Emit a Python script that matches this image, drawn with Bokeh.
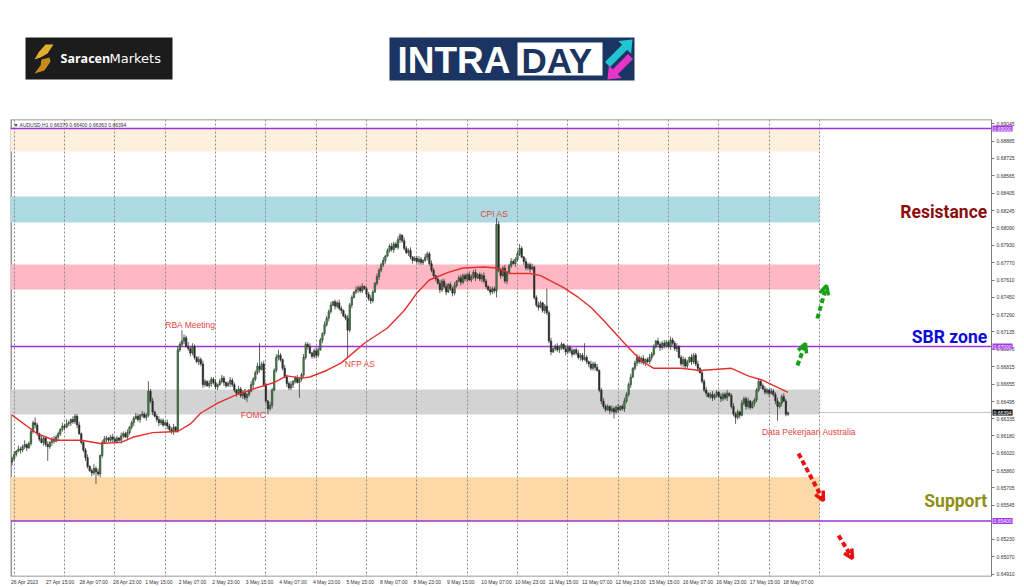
from bokeh.plotting import figure
from bokeh.models import Range1d, FixedTicker, PrintfTickFormatter, Label, Arrow, OpenHead
from bokeh.layouts import column
from bokeh.embed import file_html
from bokeh.resources import INLINE
from bokeh.core.properties import value

# ---------------- data ----------------
symbol = "AUDUSD,H1"
pip = 0.0001
first_open_pips = 6594

close_pips = [
    6597, 6601, 6604, 6606, 6605, 6608, 6610, 6607, 6611, 6622, 6630, 6628, 6620, 6615, 6612, 6616, 6610, 6608,
    6612, 6615, 6613, 6617, 6620, 6624, 6627, 6626, 6629, 6630, 6633, 6631, 6636, 6628, 6620, 6612, 6605, 6598,
    6590, 6586, 6584, 6588, 6585, 6583, 6600, 6612, 6615, 6616, 6614, 6617, 6615, 6613, 6616, 6614, 6618, 6620, 6617, 6621,
    6626, 6630, 6634, 6636, 6633, 6637, 6638, 6635, 6637, 6659, 6650, 6640, 6636, 6633, 6630, 6632, 6628, 6630, 6627, 6624, 6622, 6626, 6623,
    6697, 6702, 6705, 6708, 6700, 6698, 6694, 6700, 6690, 6686, 6688, 6684, 6665,
    6668, 6664, 6666, 6670, 6667, 6663, 6665, 6668, 6671, 6667, 6664, 6666, 6669, 6665, 6660, 6657, 6661, 6655, 6658, 6653, 6656, 6659,
    6665, 6670, 6676, 6682, 6679, 6684, 6665, 6650, 6643, 6646, 6660, 6678, 6690, 6692, 6688, 6680, 6672, 6666, 6662, 6665, 6668, 6671, 6667, 6670, 6674,
    6690, 6702, 6700, 6694, 6691, 6696, 6692, 6697, 6706, 6712, 6720, 6726, 6732, 6738, 6741, 6737, 6740, 6735, 6733, 6728, 6726,
    6715, 6738, 6745, 6750, 6752, 6754, 6751, 6755, 6753, 6748, 6744, 6742, 6750, 6758, 6764, 6770, 6775, 6779, 6783,
    6788, 6792, 6789, 6794, 6791, 6798, 6802, 6797, 6790, 6786, 6788, 6782, 6779, 6781, 6778, 6780, 6777, 6779, 6782, 6785, 6776, 6770, 6765, 6762,
    6758, 6752, 6760, 6755, 6750, 6757, 6753, 6749, 6756, 6760, 6763, 6759, 6765, 6762, 6766, 6761, 6764, 6768, 6763, 6766, 6762, 6765, 6760, 6755, 6752, 6750, 6753, 6751,
    6812, 6770, 6765, 6772, 6760, 6768, 6774, 6778, 6776, 6780, 6785, 6790, 6782, 6778, 6772, 6775, 6771, 6773, 6745, 6738, 6736, 6740, 6733, 6737, 6731, 6705, 6695,
    6698, 6700, 6697, 6699, 6702, 6698, 6695, 6699, 6696, 6693, 6697, 6694, 6690, 6692, 6688, 6690, 6686, 6684, 6680, 6684, 6681, 6678, 6660, 6650, 6645,
    6642, 6645, 6641, 6643, 6640, 6644, 6642, 6645, 6643, 6650, 6656, 6665, 6672, 6680, 6685, 6690, 6686, 6689, 6685, 6688, 6686, 6690, 6693,
    6700, 6705, 6702, 6699, 6703, 6701, 6704, 6700, 6706, 6703, 6698, 6700, 6690, 6684, 6688, 6682, 6686, 6690, 6686, 6692, 6684, 6680, 6676, 6668, 6660,
    6657, 6654, 6656, 6653, 6655, 6658, 6654, 6652, 6656, 6653, 6657, 6655, 6645, 6638, 6635, 6640, 6637, 6648, 6652, 6645, 6650, 6644, 6648, 6651,
    6660, 6668, 6664, 6661, 6658, 6660, 6657, 6659, 6656, 6650, 6645, 6648, 6654, 6650, 6637.9, 6639.4,
]

upper_wick_pips = [
    2, 3, 1, 3, 2, 2, 4, 1, 2, 3, 2, 5, 2, 1, 3, 2, 2, 3, 1, 2,
    3, 2, 2, 1, 3, 2, 4, 2, 1, 3, 2, 2, 3, 1, 2, 2, 3, 1, 2, 4,
    2, 3, 1, 2, 3, 2, 1, 2, 3, 2, 2, 1, 3, 2, 2, 3, 1, 2, 2, 3,
    2, 1, 3, 2, 2, 9, 2, 3, 1, 2, 3, 2, 2, 1, 3, 2, 2, 3, 1, 3,
    2, 10, 3, 2, 4, 2, 3, 2, 1, 3, 2, 3, 2, 1, 3, 2, 2, 3, 1, 2,
    3, 2, 1, 2, 3, 2, 2, 1, 3, 2, 2, 3, 1, 2, 3, 2, 2, 3, 21, 2,
    3, 2, 1, 3, 2, 2, 3, 5, 2, 1, 3, 2, 2, 3, 1, 2, 3, 2, 2, 3,
    2, 2, 3, 1, 2, 3, 2, 2, 1, 3, 2, 2, 3, 1, 2, 2, 3, 2, 1, 2,
    3, 2, 2, 1, 3, 2, 2, 3, 1, 2, 2, 3, 2, 1, 3, 2, 2, 3, 1, 2,
    2, 3, 2, 2, 3, 2, 1, 3, 2, 2, 3, 1, 2, 2, 3, 2, 1, 3, 2, 2,
    3, 2, 1, 2, 3, 2, 2, 3, 1, 2, 2, 3, 1, 2, 3, 2, 2, 1, 3, 2,
    2, 3, 1, 2, 2, 3, 2, 1, 3, 2, 2, 6, 3, 2, 2, 3, 1, 2, 3, 2,
    2, 3, 4, 2, 1, 3, 2, 2, 3, 1, 2, 3, 2, 1, 2, 16, 2, 3, 1, 2,
    3, 2, 2, 1, 3, 2, 2, 3, 1, 2, 3, 2, 2, 13, 2, 1, 3, 2, 2, 3,
    1, 2, 3, 2, 2, 1, 3, 2, 2, 3, 1, 2, 3, 2, 2, 3, 1, 2, 3, 2,
    2, 3, 1, 2, 3, 2, 2, 1, 3, 2, 2, 3, 2, 1, 3, 2, 2, 3, 1, 2,
    3, 2, 2, 1, 3, 2, 2, 3, 1, 2, 2, 3, 1, 2, 3, 2, 2, 1, 3, 2,
    2, 3, 1, 2, 3, 2, 2, 1, 3, 2, 2, 3, 1, 2, 2, 2, 3, 1, 2, 3,
    2, 1, 3, 2, 2, 3, 1, 2, 3, 2, 0.6,
]

lower_wick_pips = [
    3, 2, 2, 1, 3, 2, 2, 3, 1, 2, 2, 3, 2, 2, 1, 3, 2, 13, 2, 3,
    2, 1, 3, 2, 2, 3, 1, 2, 3, 2, 2, 3, 1, 2, 2, 3, 2, 1, 3, 2,
    11, 2, 3, 2, 1, 3, 2, 2, 3, 1, 2, 2, 3, 2, 1, 3, 2, 2, 3, 1,
    2, 3, 2, 1, 3, 2, 2, 3, 1, 2, 3, 2, 2, 1, 3, 2, 2, 3, 1, 2,
    2, 2, 3, 1, 2, 3, 2, 2, 1, 3, 2, 3, 2, 1, 2, 3, 2, 2, 3, 1,
    2, 3, 2, 1, 3, 2, 2, 3, 1, 2, 3, 2, 4, 2, 1, 3, 2, 2, 3, 1,
    2, 2, 5, 2, 3, 1, 2, 3, 2, 2, 1, 3, 2, 2, 3, 2, 1, 14, 2, 3,
    2, 3, 1, 2, 2, 3, 2, 1, 3, 2, 2, 3, 2, 1, 3, 2, 2, 3, 1, 2,
    25, 2, 3, 1, 2, 3, 2, 2, 1, 3, 2, 3, 2, 1, 2, 3, 2, 2, 3, 1,
    2, 2, 3, 1, 2, 3, 2, 2, 1, 3, 2, 3, 1, 2, 3, 2, 2, 1, 3, 2,
    2, 3, 2, 1, 3, 2, 2, 3, 1, 2, 3, 2, 2, 1, 3, 2, 2, 3, 1, 2,
    2, 3, 1, 2, 3, 2, 2, 1, 3, 2, 2, 6, 2, 3, 1, 2, 3, 2, 2, 1,
    3, 2, 2, 1, 3, 2, 2, 3, 1, 2, 2, 3, 1, 2, 3, 2, 2, 3, 1, 2,
    2, 3, 2, 1, 3, 2, 2, 3, 1, 2, 2, 3, 2, 1, 2, 3, 2, 2, 3, 1,
    2, 3, 2, 2, 1, 3, 2, 6, 2, 3, 1, 2, 3, 2, 2, 3, 1, 2, 3, 2,
    2, 2, 3, 1, 2, 3, 2, 2, 1, 3, 2, 3, 2, 1, 3, 2, 2, 3, 1, 2,
    3, 2, 2, 1, 3, 2, 2, 3, 1, 2, 2, 3, 1, 2, 3, 2, 2, 1, 3, 2,
    2, 3, 1, 2, 2, 6, 2, 3, 1, 2, 3, 2, 2, 1, 3, 2, 2, 3, 1, 2,
    2, 3, 1, 2, 3, 13, 2, 3, 1, 2, 1.6,
]

ma_bars = [0, 12, 20, 33, 42, 52, 58, 67, 79, 85, 90, 98, 106, 115, 125, 131, 138, 142, 150, 157,
           168, 179, 187, 193, 199, 208, 215, 225, 231, 238, 247, 252, 263, 270, 276, 282, 292, 300,
           306, 319, 328, 343, 351, 358, 370]
ma_pips = [6637, 6620, 6614, 6614, 6611, 6612, 6617, 6621, 6622, 6629, 6639, 6648, 6655, 6661, 6667, 6673,
           6671, 6672, 6678, 6685, 6703, 6717, 6733, 6749, 6761, 6768, 6772, 6773, 6772, 6767, 6767, 6765,
           6754, 6745, 6736, 6724, 6703, 6687, 6680, 6680, 6678, 6680, 6673, 6669, 6658]

x_label_bars = [0, 16, 32, 48, 64, 80, 96, 112, 128, 144, 160, 176, 192, 208, 224, 240, 256, 272,
                288, 304, 320, 336, 352, 368]
x_labels = ["26 Apr 2023", "27 Apr 15:00", "28 Apr 07:00", "28 Apr 23:00", "1 May 15:00", "2 May 07:00",
            "2 May 23:00", "3 May 15:00", "4 May 07:00", "4 May 23:00", "5 May 15:00", "8 May 07:00",
            "8 May 23:00", "9 May 15:00", "10 May 07:00", "10 May 23:00", "11 May 15:00", "12 May 07:00",
            "12 May 23:00", "15 May 15:00", "16 May 07:00", "16 May 23:00", "17 May 15:00", "18 May 07:00"]
day_grid_bars = [1, 25, 49, 73, 97, 121, 145, 169, 193, 217, 241, 265, 289, 313, 337, 361, 385]

y_tick_values = [0.69045, 0.68885, 0.68725, 0.68565, 0.68405, 0.68245, 0.68090, 0.67930, 0.67770,
                 0.67610, 0.67450, 0.67290, 0.67135, 0.66975, 0.66815, 0.66655, 0.66495, 0.66335,
                 0.66180, 0.66020, 0.65860, 0.65705, 0.65545, 0.65230, 0.65070, 0.64910]

level_prices = [0.69000, 0.67000, 0.65400]
zone_bottoms = [0.68789, 0.68138, 0.67523, 0.66376, 0.65400]
zone_tops = [0.69000, 0.68376, 0.67752, 0.66605, 0.65800]
zone_colors = ["#fdf0dc", "#acdae2", "#ffb8c3", "#d3d3d3", "#fdd9a8"]
zone_end_bar = 385

event_names = ["RBA Meeting", "FOMC", "NFP AS", "CPI AS", "Data Pekerjaan Australia"]
event_bars = [85, 115, 166, 230, 380]
event_prices = [0.6720, 0.6637, 0.6684, 0.6822, 0.6622]

zone_names = ["Resistance", "SBR zone", "Support"]
zone_name_prices = [0.68238, 0.67083, 0.65587]
zone_name_colors = ["#8b0d0d", "#0c0cd6", "#8e8e12"]

arrow_start_bars = [384.0, 374.5, 375.0, 394.1]
arrow_start_prices = [0.67257, 0.66826, 0.66018, 0.65266]
arrow_end_bars = [388.4, 378.3, 386.9, 400.8]
arrow_end_prices = [0.67560, 0.67028, 0.65587, 0.65055]
arrow_colors = ["#18a018", "#18a018", "#e81010", "#e81010"]

# ---------------- derived candle table ----------------
n = len(close_pips)
bars = list(range(n))
opens = [first_open_pips] + close_pips[:-1]
o_px = [v * pip for v in opens]
c_px = [v * pip for v in close_pips]
h_px = [(max(o, c) + u) * pip for o, c, u in zip(opens, close_pips, upper_wick_pips)]
l_px = [(min(o, c) - d) * pip for o, c, d in zip(opens, close_pips, lower_wick_pips)]
body_top = [max(a, b) for a, b in zip(o_px, c_px)]
body_bot = [min(a, b) for a, b in zip(o_px, c_px)]
body_col = ["#3f9440" if c >= o else "#2e2e2e" for o, c in zip(o_px, c_px)]
current_price = c_px[-1]

# view: the price scale sits at bar 467.05, the area to its right holds the price labels
X_START, X_END = -0.76, 482.78
AXIS_X = 467.05
Y_BOTTOM, Y_TOP = 0.648899, 0.690826
AX_FONT = "Liberation Sans"
FRAME_COL = "#7a7a7a"

# ---------------- header with logos (page pixel space) ----------------
h = figure(width=1024, height=111, x_range=Range1d(10, 1024), y_range=Range1d(111, 0),
           toolbar_location=None, output_backend="svg",
           min_border_left=10, min_border_right=0, min_border_top=0, min_border_bottom=0)
h.axis.visible = False
h.grid.visible = False
h.outline_line_color = None

h.quad(left=[25], right=[172], top=[37], bottom=[79], fill_color="#1c1c1c", line_color=None)
h.patch([45, 53, 47, 40, 34, 38], [44, 44, 53, 57, 59, 52], fill_color="#e2ae31", line_color=None)
h.patch([41, 49, 50, 44, 34, 40], [59, 57, 61, 70, 73, 65], fill_color="#c48b1d", line_color=None)
h.text(x=[60], y=[58], text=["Saracen"], text_font=value("Open Sans"), text_font_style="bold",
       text_font_size="12.5px", text_color="white", text_baseline="middle")
h.text(x=[109], y=[58], text=["Markets"], text_font=value("DejaVu Sans"),
       text_font_size="13px", text_color="white", text_baseline="middle")

h.quad(left=[389], right=[634], top=[37], bottom=[80], fill_color="#1b3461", line_color=None)
h.quad(left=[517], right=[602], top=[42], bottom=[75], fill_color="white", line_color=None)
h.text(x=[397], y=[60], text=["INTRA"], text_font=value("Liberation Sans"), text_font_style="bold",
       text_font_size="37px", text_color="white", text_baseline="middle")
h.text(x=[521], y=[60], text=["DAY"], text_font=value("Liberation Sans"), text_font_style="bold",
       text_font_size="35px", text_color="#1b3461", text_baseline="middle")
h.patch([632, 630.6, 626.7, 609.5, 604.5, 621.7, 617.8], [39, 53.2, 49.3, 66.5, 61.5, 44.3, 40.4],
        fill_color="#22c4d2", line_color=None)
h.patch([607, 621.2, 617.3, 632.5, 627.5, 612.3, 608.4], [79, 77.6, 73.7, 58.5, 53.5, 68.7, 64.8],
        fill_color="#e636c9", line_color=None)

# ---------------- main chart ----------------
p = figure(width=1024, height=476, x_range=Range1d(X_START, X_END), y_range=Range1d(Y_BOTTOM, Y_TOP),
           toolbar_location=None, output_backend="svg", y_axis_location="right",
           min_border_left=10, min_border_top=8, min_border_right=0, min_border_bottom=11)
p.grid.visible = False
p.outline_line_color = None
p.background_fill_color = "white"

# axes
x_ticks = [b + round(0.55 * len(t)) for b, t in zip(x_label_bars, x_labels)]
p.xaxis.ticker = FixedTicker(ticks=x_ticks)
p.xaxis.major_label_overrides = {t: lab for t, lab in zip(x_ticks, x_labels)}
p.xaxis.major_tick_out = 0
p.xaxis.major_tick_in = 0
p.xaxis.major_label_standoff = 2
p.xaxis.axis_line_color = None
p.xaxis.major_label_text_font_size = "5px"
p.xaxis.major_label_text_font = AX_FONT
p.xaxis.major_label_text_color = "#333333"

p.yaxis.fixed_location = AXIS_X
p.yaxis.ticker = FixedTicker(ticks=y_tick_values)
p.yaxis.formatter = PrintfTickFormatter(format="%.5f")
p.yaxis.major_tick_out = 3
p.yaxis.major_tick_in = 0
p.yaxis.major_label_standoff = 2
p.yaxis.axis_line_color = FRAME_COL
p.yaxis.major_tick_line_color = FRAME_COL
p.yaxis.major_label_text_font_size = "5px"
p.yaxis.major_label_text_font = AX_FONT
p.yaxis.major_label_text_color = "#333333"

# chart border (left, top, bottom) up to the price scale
p.segment(x0=[X_START + 0.25, X_START, X_START], y0=[Y_BOTTOM, Y_TOP, Y_BOTTOM],
          x1=[X_START + 0.25, AXIS_X, AXIS_X], y1=[Y_TOP, Y_TOP, Y_BOTTOM],
          line_color=FRAME_COL, line_width=1.5)

# bid line, zones, grid, levels
p.segment(x0=[X_START], y0=[current_price], x1=[AXIS_X], y1=[current_price], line_color="#c4c4c4", line_width=1)
p.quad(left=[X_START] * len(zone_tops), right=[zone_end_bar] * len(zone_tops),
       bottom=zone_bottoms, top=zone_tops, fill_color=zone_colors, line_color=None)
p.vspan(x=day_grid_bars, line_color="#8a8a8a", line_width=1, line_dash="2 2")
p.segment(x0=[X_START] * 3, y0=level_prices, x1=[AXIS_X] * 3, y1=level_prices,
          line_color="#9b32dc", line_width=1.5)

# candles
p.segment(x0=bars, y0=l_px, x1=bars, y1=h_px, line_color="#3a3a3a", line_width=0.8)
p.vbar(x=bars, width=0.72, top=body_top, bottom=body_bot, fill_color=body_col,
       line_color="#262626", line_width=0.5)

# moving average
p.line(x=ma_bars, y=[v * pip for v in ma_pips], line_color="#e2302c", line_width=1.4)

# event notes
p.text(x=event_bars, y=event_prices, text=event_names, text_font=value("Liberation Sans"),
       text_font_size="8.5px", text_color="#e2443f", text_align="center", text_baseline="middle")

# zone titles
p.text(x=[465.0] * 3, y=zone_name_prices, text=zone_names, text_font=value("Roboto"),
       text_font_style="bold", text_font_size="17.5px", text_color=zone_name_colors,
       text_align="right", text_baseline="middle")

# arrows
for xs, ys, xe, ye, col in zip(arrow_start_bars, arrow_start_prices, arrow_end_bars, arrow_end_prices, arrow_colors):
    p.add_layout(Arrow(end=OpenHead(size=9, line_width=3.5, line_color=col),
                       x_start=xs, y_start=ys, x_end=xe, y_end=ye,
                       line_color=col, line_width=4, line_dash="5 3"))

# price boxes on the price scale
for lvl in level_prices:
    p.add_layout(Label(x=AXIS_X, y=lvl, x_offset=1, text=f"{lvl:.5f}", text_font=AX_FONT,
                       text_font_size="5px", text_color="white", text_baseline="middle",
                       background_fill_color="#a238e6", padding=1))
p.add_layout(Label(x=AXIS_X, y=current_price, x_offset=1, text=f"{current_price:.5f}", text_font=AX_FONT,
                   text_font_size="5px", text_color="white", text_baseline="middle",
                   background_fill_color="#111111", padding=1))

# symbol header line
info = "\u25bc " + symbol + "  " + " ".join(f"{v:.5f}" for v in (o_px[-1], h_px[-1], l_px[-1], c_px[-1]))
p.add_layout(Label(x=X_START, y=Y_TOP, x_offset=3, y_offset=-2, text=info, text_font=AX_FONT,
                   text_font_size="5px", text_color="#333333", text_baseline="top"))

layout = column(h, p)
open("out.html", "w").write(file_html(layout, INLINE))
